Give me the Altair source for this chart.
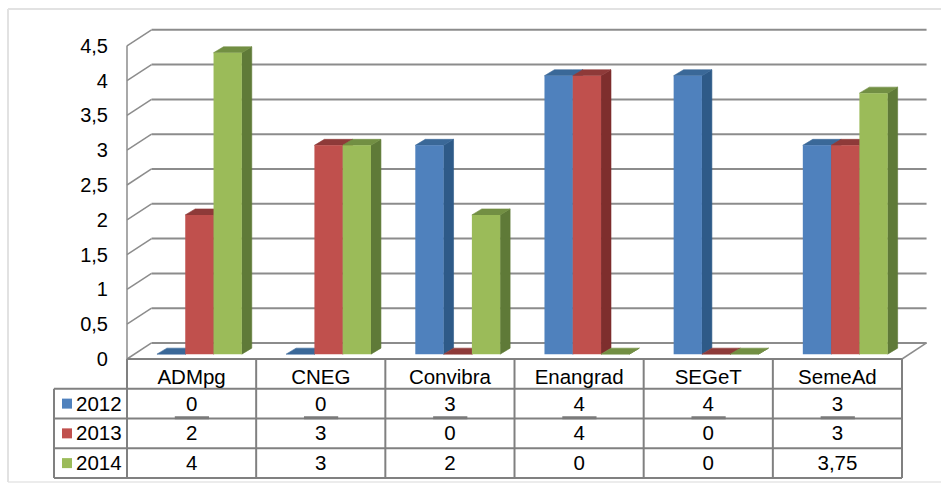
import altair as alt
import pandas as pd

# ---------------- data ----------------
categories = ["ADMpg", "CNEG", "Convibra", "Enangrad", "SEGeT", "SemeAd"]
years = ["2012", "2013", "2014"]
# bar heights as drawn
v2012 = [0, 0, 3, 4, 4, 3]
v2013 = [2, 3, 0, 4, 0, 3]
v2014 = [4.33, 3, 2, 0, 0, 3.75]
# values as printed in the data table
t2012 = ["0", "0", "3", "4", "4", "3"]
t2013 = ["2", "3", "0", "4", "0", "3"]
t2014 = ["4", "3", "2", "0", "0", "3,75"]
yticks = [0, 0.5, 1, 1.5, 2, 2.5, 3, 3.5, 4, 4.5]
ytick_labels = ["0", "0,5", "1", "1,5", "2", "2,5", "3", "3,5", "4", "4,5"]

front_colors = ["#4F81BD", "#C0504D", "#9BBB59"]
side_colors = ["#2E5A88", "#7E2E2D", "#5F7A38"]
top_colors = ["#3A6898", "#8E3A39", "#728F43"]

# ---------------- layout constants ----------------
W, H = 941, 499
X_DOM = [-1.4832, 5.8018]      # category units across the canvas
Y_DOM = [-2.0115, 5.1580]      # value units across the canvas
DU, DV = 0.19, 0.23            # wall depth offset
BAR_OFF, BW = -0.268, 0.219    # cluster start & bar width
BDU, BDV = 0.077, 0.086        # bar depth
VB = 0.07                      # bar base (mid depth)
RH = 0.4274                    # table row height in value units
LEG_U = -1.065                 # left edge of the legend column
FONT = "Liberation Sans"
GRID = "#8C8C8C"
LINE = "#808080"

xs = alt.Scale(domain=X_DOM, nice=False, zero=False)
ys = alt.Scale(domain=Y_DOM, nice=False, zero=False)
X = lambda f: alt.X(f, type="quantitative", scale=xs, axis=None)
Y = lambda f: alt.Y(f, type="quantitative", scale=ys, axis=None)

series = [v2012, v2013, v2014]
texts = [t2012, t2013, t2014]

# ---------------- walls / grid ----------------
grid_df = pd.DataFrame({"t": yticks, "lab": ytick_labels})
grid_df["tb"] = grid_df["t"] + DV
grid_df["u0"] = -0.5
grid_df["ub0"] = -0.5 + DU
grid_df["ub1"] = len(categories) - 0.5 + DU

back_grid = alt.Chart(grid_df).mark_rule(color=GRID, strokeWidth=2).encode(
    x=X("ub0"), x2="ub1", y=Y("tb"))
left_diag = alt.Chart(grid_df).mark_rule(color=GRID, strokeWidth=1.5).encode(
    x=X("u0"), x2="ub0", y=Y("t"), y2="tb")
ylabels = alt.Chart(grid_df).mark_text(align="right", baseline="middle", dx=-19, dy=1,
                                       font=FONT, fontSize=20, color="#000000").encode(
    x=X("u0"), y=Y("t"), text="lab:N")

axis_df = pd.DataFrame({"u": [-0.5], "v0": [0], "v1": [max(yticks)],
                        "ur": [len(categories) - 0.5], "urb": [len(categories) - 0.5 + DU], "vb": [DV]})
front_axis = alt.Chart(axis_df).mark_rule(color=GRID, strokeWidth=1.5).encode(
    x=X("u"), y=Y("v0"), y2="v1")
floor_right = alt.Chart(axis_df).mark_rule(color=GRID, strokeWidth=1.5).encode(
    x=X("ur"), x2="urb", y=Y("v0"), y2="vb")

# ---------------- bars ----------------
front_rows, side_rows, top_rows = [], [], []
for s, (yr, vals) in enumerate(zip(years, series)):
    for i, val in enumerate(vals):
        bid = f"{i}-{s}"
        u0 = i + BAR_OFF + s * BW
        u1 = u0 + BW
        vt = VB + val
        front_rows.append({"id": bid, "c": front_colors[s], "u0": u0, "u1": u1, "vb": VB, "vt": vt})
        sc, tc = side_colors[s], top_colors[s]
        side_rows += [
            {"id": bid, "c": sc, "x": u1, "y": VB, "y2": vt},
            {"id": bid, "c": sc, "x": u1 + BDU, "y": VB + BDV, "y2": vt + BDV},
        ]
        top_rows += [
            {"id": bid, "c": tc, "x": u0, "y": vt, "y2": vt},
            {"id": bid, "c": tc, "x": u0 + BDU, "y": vt, "y2": vt + BDV},
            {"id": bid, "c": tc, "x": u1, "y": vt, "y2": vt + BDV},
            {"id": bid, "c": tc, "x": u1 + BDU, "y": vt + BDV, "y2": vt + BDV},
        ]

sides = alt.Chart(pd.DataFrame(side_rows)).mark_area(orient="vertical", strokeWidth=0.6).encode(
    x=X("x"), y=Y("y"), y2="y2", detail="id:N",
    color=alt.Color("c:N", scale=None), stroke=alt.Stroke("c:N", scale=None))
tops = alt.Chart(pd.DataFrame(top_rows)).mark_area(orient="vertical", strokeWidth=0.6).encode(
    x=X("x"), y=Y("y"), y2="y2", detail="id:N",
    color=alt.Color("c:N", scale=None), stroke=alt.Stroke("c:N", scale=None))
fronts = alt.Chart(pd.DataFrame(front_rows)).mark_rect().encode(
    x=X("u0"), x2="u1", y=Y("vb"), y2="vt", color=alt.Color("c:N", scale=None))

# ---------------- data table ----------------
n = len(categories)
hl = pd.DataFrame({"r": [0, 1, 2, 3, 4]})
hl["v"] = -hl["r"] * RH
hl["ua"] = [-0.5, LEG_U, LEG_U, LEG_U, LEG_U]
hl["ub"] = n - 0.5
hlines = alt.Chart(hl).mark_rule(color=LINE, strokeWidth=2).encode(
    x=X("ua"), x2="ub", y=Y("v"))

vl = pd.DataFrame({"u": [LEG_U] + [k - 0.5 for k in range(n + 1)],
                   "va": [-RH] + [0.0] * (n + 1)})
vl["vb"] = -4 * RH
vlines = alt.Chart(vl).mark_rule(color=LINE, strokeWidth=2).encode(
    x=X("u"), y=Y("va"), y2="vb")

head_df = pd.DataFrame({"cat": categories, "u": list(range(n)), "v": [-0.5 * RH] * n})
header = alt.Chart(head_df).mark_text(font=FONT, fontSize=20.5, baseline="middle", dy=4,
                                      color="#000000").encode(x=X("u"), y=Y("v"), text="cat:N")

cell_rows = []
for s, (yr, tv) in enumerate(zip(years, texts)):
    for i, t in enumerate(tv):
        cell_rows.append({"year": yr, "u": i, "v": -(s + 1.5) * RH, "txt": t})
cells = alt.Chart(pd.DataFrame(cell_rows)).mark_text(
    font=FONT, fontSize=20.5, baseline="middle", dy=1, color="#000000").encode(
    x=X("u"), y=Y("v"), text="txt:N")

# short grey marks under the first-row values
ul = pd.DataFrame({"u0": [i - 0.13 for i in range(n)], "u1": [i + 0.135 for i in range(n)],
                   "v": [-2 * RH + 0.012] * n})
underl = alt.Chart(ul).mark_rule(color="#7A7A7A", strokeWidth=3).encode(
    x=X("u0"), x2="u1", y=Y("v"))

leg_df = pd.DataFrame({"year": years, "v": [-(s + 1.5) * RH for s in range(3)],
                       "us": [-0.9645] * 3, "ut": [-0.8948] * 3, "c": front_colors})
leg_sq = alt.Chart(leg_df).mark_square(size=100, opacity=1).encode(
    x=X("us"), y=Y("v"), color=alt.Color("c:N", scale=None))
leg_tx = alt.Chart(leg_df).mark_text(font=FONT, fontSize=20.5, align="left", baseline="middle",
                                     dy=1, color="#000000").encode(
    x=X("ut"), y=Y("v"), text="year:N")

# ---------------- outer frame ----------------
frame_df = pd.DataFrame({"k": [0]})
fr_top = alt.Chart(frame_df).mark_rule(color="#E2E2E2", strokeWidth=2).encode(
    x=alt.value(8), x2=alt.value(W), y=alt.value(9))
fr_bot = alt.Chart(frame_df).mark_rule(color="#ECECEC", strokeWidth=2).encode(
    x=alt.value(8), x2=alt.value(W), y=alt.value(482))
fr_left = alt.Chart(frame_df).mark_rule(color="#E2E2E2", strokeWidth=2).encode(
    x=alt.value(8), y=alt.value(9), y2=alt.value(482))

chart = alt.layer(
    fr_top, fr_bot, fr_left,
    back_grid, left_diag, front_axis, floor_right, ylabels,
    sides, tops, fronts,
    hlines, vlines, underl, header, cells, leg_sq, leg_tx,
).properties(
    width=W, height=H, padding=0, autosize=alt.AutoSizeParams(type="none"),
    background="#FFFFFF",
).configure_view(stroke=None)

chart.save("out.html", embed_options={"renderer": "svg", "actions": False})
